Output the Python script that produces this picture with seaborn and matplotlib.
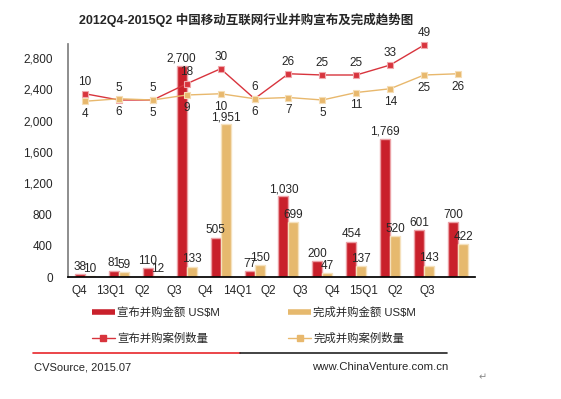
import numpy as np
import pandas as pd
import matplotlib
matplotlib.use("Agg")
import matplotlib.pyplot as plt
from matplotlib.lines import Line2D
import seaborn as sns

quarters = ["Q4", "13Q1", "Q2", "Q3", "Q4", "14Q1", "Q2", "Q3", "Q4", "15Q1", "Q2", "Q3"]
announced_amt = [38, 81, 110, 2700, 505, 77, 1030, 200, 454, 1769, 601, 700]
completed_amt = [10, 59, 12, 133, 1951, 150, 699, 47, 137, 520, 143, 422]
announced_cnt = [10, 5, 5, 18, 30, 6, 26, 25, 25, 33, 49, np.nan]
completed_cnt = [4, 6, 5, 9, 10, 6, 7, 5, 11, 14, 25, 26]
series_names = ["宣布并购金额 US$M", "完成并购金额 US$M", "宣布并购案例数量", "完成并购案例数量"]

red = "#C9202B"
gold = "#E6B96E"

sns.set_theme(style="white")
plt.rcParams["font.family"] = ["Liberation Sans", "Noto Sans CJK SC"]

n = len(quarters)
idx = list(range(n))
df = pd.DataFrame({
    "idx": idx * 2,
    "amount": announced_amt + completed_amt,
    "series": [series_names[0]] * n + [series_names[1]] * n,
})

fig = plt.figure(figsize=(5.61, 3.99), dpi=100)
ax = fig.add_axes([68 / 561, 1 - 277 / 399, (475 - 68) / 561, (277 - 44) / 399])

sns.barplot(data=df, x="idx", y="amount", hue="series", palette=[red, gold],
            saturation=1, width=0.59, ax=ax, legend=False, linewidth=1)
for cont, ec in zip(ax.containers, ["#EBA0A5", "#F5E1BD"]):
    for p in cont.patches:
        p.set_edgecolor(ec)
    ax.bar_label(cont, fmt="{:,.0f}", padding=1, fontsize=8.5)

ax.set_ylim(0, 2980)
ax.set_yticks(range(0, 2801, 400))
ax.set_yticklabels([f"{v:,}" for v in range(0, 2801, 400)])
# the category labels in the original sit a little left of the bar groups
ax.set_xticks(np.arange(n) * 0.933 - 0.18)
ax.set_xticklabels(quarters)
ax.tick_params(axis="both", length=0, labelsize=8.5)
ax.tick_params(axis="y", pad=11)
ax.tick_params(axis="x", pad=6)
ax.set_xlabel("")
ax.set_ylabel("")
for s in ["top", "right"]:
    ax.spines[s].set_visible(False)
ax.spines["left"].set_color("#808080")
ax.spines["bottom"].set_color("black")

ax2 = ax.twinx()
sns.lineplot(x=idx, y=announced_cnt, ax=ax2, color="#D8343D", lw=1, marker="s",
             markersize=5, markeredgecolor="#F0A8AC", markeredgewidth=0.8)
sns.lineplot(x=idx, y=completed_cnt, ax=ax2, color="#E8B86D", lw=1, marker="s",
             markersize=5, markeredgecolor="#F5DDB5", markeredgewidth=0.8)
for ln in ax2.lines:
    ln.set_clip_on(False)
ax2.set_ylim(-136.6, 49.8)
ax2.axis("off")
ax.set_xlim(-0.5, n - 0.5)

for i, v in enumerate(announced_cnt):
    if not np.isnan(v):
        ax2.annotate(f"{v:.0f}", (i, v), xytext=(0, 4), textcoords="offset points",
                     ha="center", va="bottom", fontsize=8.5)
for i, v in enumerate(completed_cnt):
    ax2.annotate(f"{v:.0f}", (i, v), xytext=(0, -5), textcoords="offset points",
                 ha="center", va="top", fontsize=8.5)

fig.text(246 / 561, 1 - 20 / 399, "2012Q4-2015Q2 中国移动互联网行业并购宣布及完成趋势图",
         ha="center", va="center", fontsize=9, fontweight="bold")

handles = [
    Line2D([], [], color=red, lw=4, solid_capstyle="butt"),
    Line2D([], [], color="#D8343D", lw=1, marker="s", markersize=4),
    Line2D([], [], color=gold, lw=4, solid_capstyle="butt"),
    Line2D([], [], color="#E8B86D", lw=1, marker="s", markersize=4),
]
labels = [series_names[0], series_names[2], series_names[1], series_names[3]]
fig.legend(handles, labels, ncol=2, loc="upper left", bbox_to_anchor=(92 / 561, 1 - 307 / 399),
           frameon=False, fontsize=8.2, handlelength=2.0, handletextpad=0.2,
           columnspacing=6.0, labelspacing=1.3, borderpad=0, borderaxespad=0)

y_line = 1 - 353 / 399
fig.add_artist(Line2D([33 / 561, 240 / 561], [y_line, y_line], color="#E8262B", lw=1.2))
fig.add_artist(Line2D([240 / 561, 447 / 561], [y_line, y_line], color="#222222", lw=1.2))
fig.text(34 / 561, 1 - 367 / 399, "CVSource, 2015.07", ha="left", va="center", fontsize=8)
fig.text(448 / 561, 1 - 367 / 399, "www.ChinaVenture.com.cn", ha="right", va="center", fontsize=8.2)
fig.text(483 / 561, 1 - 377 / 399, "↵", ha="center", va="center", fontsize=7, color="#888888",
         family="DejaVu Sans")

fig.savefig("out.png", dpi=100)
